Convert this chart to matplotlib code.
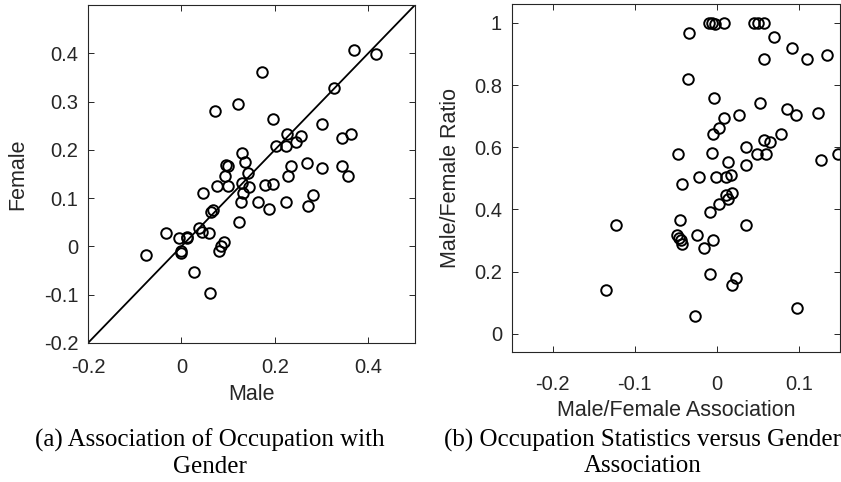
import matplotlib
matplotlib.use("Agg")
import matplotlib.pyplot as plt

# (a) male vs female association per occupation
male = [0.370, 0.416, 0.172, 0.326, 0.122, 0.073, 0.197, 0.302, 0.363, 0.344,
        0.227, 0.255, 0.245, 0.224, 0.203, 0.130, 0.137, 0.096, 0.099, 0.269,
        0.235, 0.302, 0.344, 0.356, 0.229, 0.094, 0.142, 0.130, 0.144, 0.131,
        0.076, 0.099, 0.178, 0.197, 0.046, 0.281, 0.128, 0.165, 0.225, 0.271,
        0.187, 0.124, 0.068, 0.063, 0.038, 0.045, 0.059, -0.032, -0.006, 0.011,
        0.013, 0.091, 0.084, 0.080, -0.001, -0.001, -0.075, 0.028, 0.062]
female = [0.407, 0.399, 0.362, 0.328, 0.296, 0.281, 0.263, 0.254, 0.232, 0.224,
          0.233, 0.229, 0.217, 0.208, 0.208, 0.193, 0.175, 0.168, 0.167, 0.172,
          0.167, 0.163, 0.167, 0.146, 0.145, 0.145, 0.153, 0.132, 0.124, 0.110,
          0.125, 0.125, 0.127, 0.130, 0.110, 0.106, 0.091, 0.091, 0.091, 0.084,
          0.078, 0.051, 0.076, 0.072, 0.039, 0.029, 0.027, 0.027, 0.017, 0.020,
          0.017, 0.010, 0.000, -0.009, -0.009, -0.014, -0.018, -0.054, -0.097]

# (b) association vs occupation statistics
assoc = [-0.010, -0.006, -0.002, 0.009, 0.045, 0.050, 0.058,
         -0.034, 0.069, 0.091, 0.134, 0.110, 0.058,
         -0.035, -0.003, 0.052, 0.085, 0.123, 0.096, 0.027, 0.009, 0.002,
         -0.005, 0.078, 0.058, 0.065, 0.035,
         -0.047, -0.006, 0.049, 0.060, 0.148, 0.127, 0.013, 0.035,
         -0.042, -0.022, -0.001, 0.011, 0.017, 0.011, 0.018, 0.014,
         0.003, -0.008, -0.045, -0.123, 0.035,
         -0.048, -0.046, -0.044, -0.042, -0.024, -0.005, -0.016,
         -0.008, 0.023, 0.018, -0.135, -0.027, 0.098]
ratio = [1.0, 1.0, 0.997, 1.0, 1.0, 1.0, 1.0,
         0.969, 0.956, 0.918, 0.898, 0.883, 0.883,
         0.821, 0.759, 0.741, 0.722, 0.709, 0.704, 0.704, 0.695, 0.662,
         0.642, 0.642, 0.624, 0.616, 0.602,
         0.579, 0.583, 0.579, 0.579, 0.579, 0.560, 0.551, 0.543,
         0.481, 0.503, 0.503, 0.503, 0.512, 0.445, 0.453, 0.432,
         0.416, 0.390, 0.367, 0.350, 0.350,
         0.318, 0.309, 0.300, 0.287, 0.318, 0.300, 0.277,
         0.193, 0.180, 0.156, 0.139, 0.058, 0.081]

ink = "#262626"
plt.rcParams["font.family"] = ["Liberation Sans", "DejaVu Sans"]
plt.rcParams["xtick.direction"] = "in"
plt.rcParams["ytick.direction"] = "in"

fig = plt.figure(figsize=(8.41, 4.82), dpi=100)
ax1 = fig.add_axes([0.1046, 0.2884, 0.3888, 0.7012])
ax2 = fig.add_axes([0.6084, 0.2691, 0.3904, 0.7220])

ax1.plot(male, female, "o", mfc="none", mec="black", ms=7.6, mew=1.4)
ax1.plot([-0.2, 0.5], [-0.2, 0.5], "-", color="black", lw=1.3)
ax1.set_xlim(-0.2, 0.5)
ax1.set_ylim(-0.2, 0.5)
ax1.set_xticks([-0.2, 0, 0.2, 0.4])
ax1.set_xticklabels(["-0.2", "0", "0.2", "0.4"])
ax1.set_yticks([-0.2, -0.1, 0, 0.1, 0.2, 0.3, 0.4])
ax1.set_yticklabels(["-0.2", "-0.1", "0", "0.1", "0.2", "0.3", "0.4"])
ax1.set_xlabel("Male", fontsize=15.5, color=ink, labelpad=5)
ax1.set_ylabel("Female", fontsize=15.5, color=ink, labelpad=11)

ax2.plot(assoc, ratio, "o", mfc="none", mec="black", ms=7.6, mew=1.4)
ax2.set_xlim(-0.25, 0.15)
ax2.set_ylim(-0.06, 1.06)
ax2.set_xticks([-0.2, -0.1, 0, 0.1])
ax2.set_xticklabels(["-0.2", "-0.1", "0", "0.1"])
ax2.set_yticks([0, 0.2, 0.4, 0.6, 0.8, 1])
ax2.set_yticklabels(["0", "0.2", "0.4", "0.6", "0.8", "1"])
ax2.set_xlabel("Male/Female Association", fontsize=15.5, color=ink, labelpad=5)
ax2.set_ylabel("Male/Female Ratio", fontsize=15.5, color=ink, labelpad=9)

for ax, xpad in ((ax1, 11), (ax2, 16)):
    ax.tick_params(top=True, right=True, labelsize=14.5, colors=ink,
                   length=4, width=0.7)
    ax.tick_params(axis="x", pad=xpad)
    ax.tick_params(axis="y", pad=7)
    for s in ax.spines.values():
        s.set_color(ink)
        s.set_linewidth(0.8)

fig.text(210 / 841, 1 - 429 / 482, "(a) Association of Occupation with\nGender",
         ha="center", va="top", fontsize=18, family="Liberation Serif",
         linespacing=1.2)
fig.text(643 / 841, 1 - 429 / 482, "(b) Occupation Statistics versus Gender\nAssociation",
         ha="center", va="top", fontsize=18, family="Liberation Serif",
         linespacing=1.2)

fig.savefig("out.png", dpi=100)
